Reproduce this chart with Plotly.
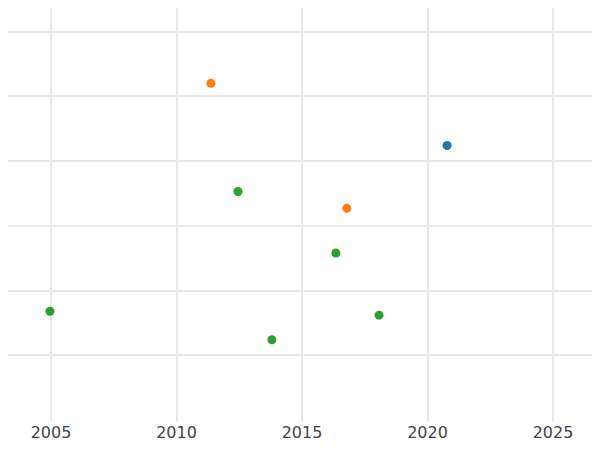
import plotly.graph_objects as go

blue_x = [2020.78]
blue_y = [4.24]
orange_x = [2011.37, 2016.79]
orange_y = [5.20, 3.27]
green_x = [2012.45, 2016.35, 2004.96, 2018.07, 2013.80]
green_y = [3.53, 2.58, 1.68, 1.62, 1.24]

fig = go.Figure()
for xs, ys, c in [(blue_x, blue_y, "#1f77b4"), (orange_x, orange_y, "#ff7f0e"), (green_x, green_y, "#2ca02c")]:
    fig.add_trace(go.Scatter(x=xs, y=ys, mode="markers", marker=dict(color=c, size=9), cliponaxis=False))

fig.update_layout(
    width=584, height=434, showlegend=False,
    paper_bgcolor="white", plot_bgcolor="white",
    margin=dict(l=0, r=0, t=0, b=13),
    font=dict(family="DejaVu Sans", size=16, color="#444"),
)
fig.update_xaxes(range=[2003.287, 2026.554], tickvals=[2005, 2010, 2015, 2020, 2025],
                 showgrid=True, gridcolor="#e8e8e8", gridwidth=2, zeroline=False)
fig.update_yaxes(range=[-0.015, 6.364], tickvals=[1, 2, 3, 4, 5, 6], showticklabels=False,
                 showgrid=True, gridcolor="#e8e8e8", gridwidth=1.5, zeroline=False)
fig.write_html("out.html")
